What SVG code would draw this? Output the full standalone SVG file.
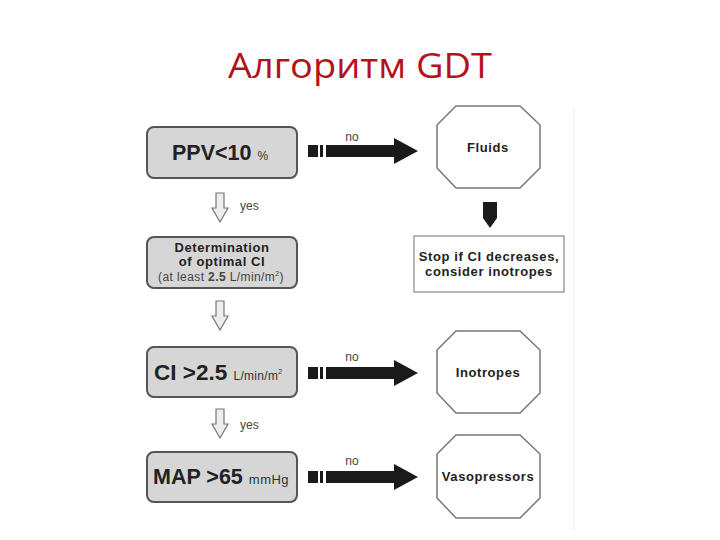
<svg xmlns="http://www.w3.org/2000/svg" width="720" height="540" viewBox="0 0 720 540">
<defs>
<style>
.title{font-family:"Open Sans","Noto Sans","Liberation Sans",sans-serif;font-size:34px;fill:#b3121c}
.box{fill:#d6d6d6;stroke:#555;stroke-width:2}
.oct{fill:#fff;stroke:#777;stroke-width:1.5}
.rect{fill:#fff;stroke:#888;stroke-width:1.2}
.big{font-family:"Liberation Sans",Arial,sans-serif;font-weight:bold;font-size:21.5px;fill:#222}
.small{font-family:"Liberation Sans",Arial,sans-serif;font-weight:normal;font-size:12px;fill:#333;letter-spacing:0.3px}
.lbl{font-family:"Liberation Sans",Arial,sans-serif;font-weight:bold;font-size:13px;fill:#222;letter-spacing:0.6px}
.note{font-family:"Liberation Sans",Arial,sans-serif;font-size:12px;fill:#444}
.hollow{fill:#eee;stroke:#777;stroke-width:1.2}
.blk{fill:#1a1a1a}
</style>
<g id="rarrow">
<rect x="0" y="-6" width="10" height="12" class="blk"/>
<rect x="12" y="-6" width="3" height="12" class="blk"/>
<path d="M18,-6 H86 V-13 L110,0 L86,13 V6 H18 Z" class="blk"/>
</g>
<path id="darrow" d="M-4,0 H4 V15 H8 L0,29 L-8,15 H-4 Z" class="hollow"/>
</defs>
<rect width="720" height="540" fill="#fff"/>
<text x="360" y="78" text-anchor="middle" class="title" textLength="264" lengthAdjust="spacingAndGlyphs">Алгоритм GDT</text>
<line x1="574" y1="108" x2="574" y2="530" stroke="#eee" stroke-width="1"/>

<g id="connectors">
<use href="#rarrow" x="308" y="151"/>
<use href="#rarrow" x="308" y="373"/>
<use href="#rarrow" x="308" y="477"/>
<text x="352" y="141" text-anchor="middle" class="note">no</text>
<text x="352" y="361" text-anchor="middle" class="note">no</text>
<text x="352" y="465" text-anchor="middle" class="note">no</text>
<use href="#darrow" x="220" y="193"/>
<use href="#darrow" x="220" y="301"/>
<use href="#darrow" x="220" y="409"/>
<text x="240" y="210" class="note">yes</text>
<text x="240" y="429" class="note">yes</text>
<path d="M483,202 H497 V218 L490,228 L483,218 Z" class="blk"/>
</g>

<g id="ppv">
<rect x="147" y="127" width="150" height="51" rx="7" class="box"/>
<text x="172" y="160" class="big">PPV&lt;10 <tspan class="small">%</tspan></text>
</g>

<g id="determination">
<rect x="147" y="237" width="150" height="51" rx="7" class="box"/>
<text x="222" y="252" text-anchor="middle" class="lbl">Determination</text>
<text x="222" y="266" text-anchor="middle" class="lbl">of optimal CI</text>
<text x="221" y="281" text-anchor="middle" class="note" style="font-size:12px;letter-spacing:0.4px">(at least <tspan font-weight="bold">2.5</tspan> L/min/m<tspan style="font-size:7px" dy="-5">2</tspan><tspan dy="5">)</tspan></text>
</g>

<g id="ci">
<rect x="147" y="347" width="150" height="50" rx="7" class="box"/>
<text x="154" y="380" class="big" style="font-size:22.5px">CI &gt;2.5 <tspan class="small">L/min/m</tspan><tspan class="small" style="font-size:7px" dy="-6">2</tspan></text>
</g>

<g id="map">
<rect x="147" y="452" width="150" height="50" rx="7" class="box"/>
<text x="153" y="484" class="big">MAP &gt;65 <tspan class="small" style="font-size:13px;letter-spacing:0.5px">mmHg</tspan></text>
</g>

<g id="fluids">
<polygon points="456,106 520,106 540,125 540,168 520,188 456,188 437,168 437,125" class="oct"/>
<text x="488" y="152" text-anchor="middle" class="lbl">Fluids</text>
</g>

<g id="stop">
<rect x="414" y="236" width="150" height="56" class="rect"/>
<text x="489" y="261" text-anchor="middle" class="lbl">Stop if CI decreases,</text>
<text x="489" y="276" text-anchor="middle" class="lbl">consider inotropes</text>
</g>

<g id="inotropes">
<polygon points="456,331 520,331 540,350 540,393 520,413 456,413 437,393 437,350" class="oct"/>
<text x="488" y="377" text-anchor="middle" class="lbl">Inotropes</text>
</g>

<g id="vasopressors">
<polygon points="456,435 520,435 540,454 540,498 520,518 456,518 437,498 437,454" class="oct"/>
<text x="488" y="481" text-anchor="middle" class="lbl">Vasopressors</text>
</g>
</svg>
